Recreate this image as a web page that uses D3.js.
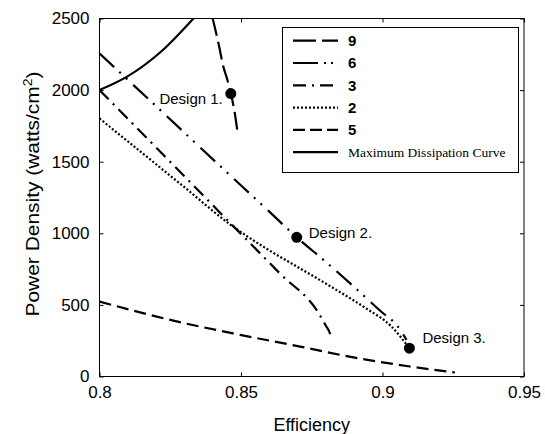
<!DOCTYPE html>
<html>
<head>
<meta charset="utf-8">
<script src="https://cdn.jsdelivr.net/npm/d3@7"></script>
<style>
  body { margin: 0; background: #fff; }
  svg { display: block; font-family: "Liberation Sans", Arial, sans-serif; }
</style>
</head>
<body>
<svg id="chart" width="545" height="434"></svg>
<script>
// tick values
const effTicks = [0.8, 0.85, 0.9, 0.95];
const powerTicks = [0, 500, 1000, 1500, 2000, 2500];

// curves (efficiency, power density)
const eff9 = [0.8400, 0.8420, 0.8438, 0.8452, 0.8464, 0.8478, 0.8489];
const pow9 = [2500, 2330, 2162, 2070, 1976, 1840, 1686];

const eff6 = [0.800, 0.820, 0.840, 0.860, 0.8697, 0.880, 0.890, 0.900, 0.905, 0.9085];
const pow6 = [2255, 1888, 1518, 1151, 972, 800, 625, 445, 360, 256];

const eff3 = [0.800, 0.8214, 0.8426, 0.8638, 0.8773, 0.8800, 0.8815, 0.8821];
const pow3 = [2000, 1571, 1144, 718, 446, 354, 298, 256];

const eff2 = [0.800, 0.815, 0.830, 0.8456, 0.858, 0.870, 0.882, 0.894, 0.903, 0.9095];
const pow2 = [1802, 1562, 1322, 1070, 905, 765, 625, 478, 352, 198];

const eff5 = [0.800, 0.825, 0.8497, 0.8709, 0.892, 0.9097, 0.9256];
const pow5 = [523, 395, 291, 209, 125, 70, 28];

const effMax = [0.800, 0.8102, 0.8220, 0.8332];
const powMax = [2000, 2099, 2273, 2500];

const seriesNames = ["9", "6", "3", "2", "5", "Maximum Dissipation Curve"];
const seriesEff = [eff9, eff6, eff3, eff2, eff5, effMax];
const seriesPow = [pow9, pow6, pow3, pow2, pow5, powMax];

const designEff = [0.8464, 0.8697, 0.9095];
const designPow = [1976, 972, 198];
const designLabels = ["Design 1.", "Design 2.", "Design 3."];

// line styles per series
const dashes = ["18,6", "20,7,2,7,2,8", "13,6,2,6", "2,2", "12,6", null];
const legendDashes = ["23,6,17,0", "25,6,2,5,2,10", "13,6,2,6", "2,2", "12,5", null];
const widths = [2.2, 2.2, 2.2, 2.2, 2.2, 2.2];

const W = 545, H = 434;
const mLeft = 99.5, mRight = 524, mTop = 18.5, mBottom = 376.5;

const svg = d3.select("#chart");

const x = d3.scaleLinear().domain([0.8, 0.95]).range([mLeft, mRight]);
const y = d3.scaleLinear().domain([0, 2500]).range([mBottom, mTop]);

svg.append("defs").append("clipPath").attr("id", "plot")
  .append("rect")
  .attr("x", mLeft).attr("y", mTop)
  .attr("width", mRight - mLeft).attr("height", mBottom - mTop);

// axes, ticks pointing in
const fmtEff = d => String(+d.toFixed(2));

svg.append("g")
  .attr("transform", `translate(0,${mBottom})`)
  .call(d3.axisBottom(x).tickValues(effTicks).tickFormat(fmtEff)
    .tickSizeInner(-4).tickSizeOuter(0).tickPadding(9))
  .call(g => g.select(".domain").remove())
  .call(g => g.selectAll("text").attr("font-size", 17).attr("fill", "#000"));

svg.append("g")
  .attr("transform", `translate(${mLeft},0)`)
  .call(d3.axisLeft(y).tickValues(powerTicks).tickFormat(d3.format("d"))
    .tickSizeInner(-4).tickSizeOuter(0).tickPadding(10))
  .call(g => g.select(".domain").remove())
  .call(g => g.selectAll("text").attr("font-size", 17).attr("fill", "#000"));

svg.append("g")
  .attr("transform", `translate(0,${mTop})`)
  .call(d3.axisTop(x).tickValues(effTicks).tickFormat("")
    .tickSizeInner(-4).tickSizeOuter(0))
  .call(g => g.select(".domain").remove());

svg.append("g")
  .attr("transform", `translate(${mRight},0)`)
  .call(d3.axisRight(y).tickValues(powerTicks).tickFormat("")
    .tickSizeInner(-4).tickSizeOuter(0))
  .call(g => g.select(".domain").remove());

svg.append("rect")
  .attr("x", mLeft).attr("y", mTop)
  .attr("width", mRight - mLeft).attr("height", mBottom - mTop)
  .attr("fill", "none").attr("stroke", "#000").attr("stroke-width", 1);

// curves
const line = d3.line()
  .x(d => x(d[0]))
  .y(d => y(d[1]))
  .curve(d3.curveMonotoneX);

const curves = svg.append("g").attr("clip-path", "url(#plot)");
seriesNames.forEach((name, i) => {
  const pts = seriesEff[i].map((e, j) => [e, seriesPow[i][j]]);
  curves.append("path")
    .datum(pts)
    .attr("d", line)
    .attr("fill", "none")
    .attr("stroke", "#000")
    .attr("stroke-width", widths[i])
    .attr("stroke-dasharray", dashes[i]);
});

// design points
const designOffsets = [[-8, 5], [12, -5], [13, -10]];
const designAnchors = ["end", "start", "start"];
designLabels.forEach((lab, i) => {
  svg.append("circle")
    .attr("cx", x(designEff[i])).attr("cy", y(designPow[i]))
    .attr("r", 5.5).attr("fill", "#000");
  svg.append("text")
    .attr("x", x(designEff[i]) + designOffsets[i][0])
    .attr("y", y(designPow[i]) + designOffsets[i][1])
    .attr("dy", "0.35em")
    .attr("text-anchor", designAnchors[i])
    .attr("font-size", 15)
    .text(lab);
});

// legend
const lg = svg.append("g");
lg.append("rect")
  .attr("x", 282.5).attr("y", 27.5)
  .attr("width", 236).attr("height", 145)
  .attr("fill", "#fff").attr("stroke", "#000").attr("stroke-width", 1);

seriesNames.forEach((name, i) => {
  const ry = 40.7 + i * 22.3;
  lg.append("line")
    .attr("x1", 293).attr("x2", 338)
    .attr("y1", ry).attr("y2", ry)
    .attr("stroke", "#000")
    .attr("stroke-width", widths[i])
    .attr("stroke-dasharray", legendDashes[i]);
  const t = lg.append("text")
    .attr("x", 348).attr("y", ry)
    .attr("dy", "0.35em")
    .text(name);
  if (i < 5) {
    t.attr("font-size", 15).attr("font-weight", "bold");
  } else {
    t.attr("font-size", 13.5).attr("font-family", "'Liberation Serif', 'Times New Roman', serif");
  }
});

// axis titles
svg.append("text")
  .attr("x", (mLeft + mRight) / 2).attr("y", 425)
  .attr("dy", "0.35em")
  .attr("text-anchor", "middle")
  .attr("font-size", 18)
  .text("Efficiency");

const yt = svg.append("text")
  .attr("transform", `translate(33,194) rotate(-90)`)
  .attr("text-anchor", "middle")
  .attr("dy", "0.35em")
  .attr("font-size", 18)
  .attr("textLength", 245)
  .attr("lengthAdjust", "spacingAndGlyphs");
yt.append("tspan").text("Power Density (watts/cm");
yt.append("tspan").attr("font-size", 12).attr("dy", "-0.6em").text("2");
yt.append("tspan").attr("dy", "0.4em").text(")");
</script>
</body>
</html>
